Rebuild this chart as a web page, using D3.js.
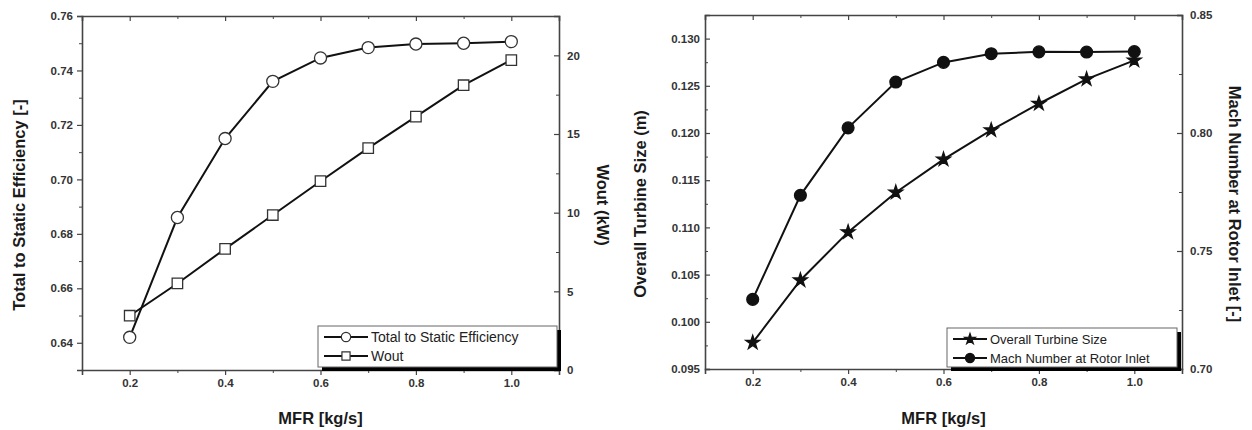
<!DOCTYPE html>
<html>
<head>
<meta charset="utf-8">
<script src="https://cdnjs.cloudflare.com/ajax/libs/d3/7.8.5/d3.min.js"></script>
<style>
  body { margin: 0; background: #fff; }
  svg { display: block; font-family: "Liberation Sans", Arial, sans-serif; }
  .tick text { font-weight: bold; font-size: 11.5px; fill: #333; }
  .domain, .tick line { stroke: #444; }
  .title { font-weight: bold; font-size: 16.5px; fill: #1a1a1a; }
</style>
</head>
<body>
<svg id="chart" width="1252" height="430"></svg>
<script>
// data
var mfr          = [0.2, 0.3, 0.4, 0.5, 0.6, 0.7, 0.8, 0.9, 1.0];
var efficiency   = [0.642, 0.686, 0.715, 0.736, 0.7446, 0.7484, 0.7497, 0.7500, 0.7506];
var wout         = [3.45, 5.5, 7.7, 9.85, 12.0, 14.1, 16.1, 18.1, 19.7];
var turbineSize  = [0.0978, 0.1044, 0.1095, 0.1137, 0.1172, 0.1203, 0.1231, 0.1257, 0.1277];
var machNumber   = [0.7295, 0.7736, 0.8022, 0.8216, 0.8299, 0.8336, 0.8344, 0.8343, 0.8345];

var mfrTicks   = [0.2, 0.4, 0.6, 0.8, 1.0];
var mfrMinor   = [0.1, 0.3, 0.5, 0.7, 0.9, 1.1];
var effTicks   = [0.64, 0.66, 0.68, 0.70, 0.72, 0.74, 0.76];
var effMinor   = [0.63, 0.65, 0.67, 0.69, 0.71, 0.73, 0.75];
var woutTicks  = [0, 5, 10, 15, 20];
var woutMinor  = [2.5, 7.5, 12.5, 17.5];
var sizeTicks  = [0.095, 0.100, 0.105, 0.110, 0.115, 0.120, 0.125, 0.130];
var sizeMinor  = [0.0975, 0.1025, 0.1075, 0.1125, 0.1175, 0.1225, 0.1275];
var machTicks  = [0.70, 0.75, 0.80, 0.85];
var machMinor  = [0.725, 0.775, 0.825];

var svg = d3.select("#chart");

function panel(o) {
  var g = svg.append("g");
  var x = d3.scaleLinear().domain([0.1, 1.1]).range([o.left, o.right]);
  var yL = d3.scaleLinear().domain(o.yLdom).range([o.bottom, o.top]);
  var yR = d3.scaleLinear().domain(o.yRdom).range([o.bottom, o.top]);

  function ax(axis, tr, vals, minor, fmt, size, minorSize, labelX) {
    var a = g.append("g").attr("transform", tr)
      .call(axis.tickValues(vals).tickFormat(fmt).tickSize(size).tickPadding(4))
      .call(function(s){ s.select(".domain").attr("stroke-width", 1.6); s.selectAll(".tick line").attr("stroke-width", 1.2); });
    if (labelX !== undefined) a.selectAll(".tick text").attr("x", labelX);
    g.append("g").attr("transform", tr)
      .call(axis.tickValues(minor).tickFormat("").tickSize(minorSize))
      .call(function(s){ s.select(".domain").remove(); s.selectAll(".tick line").attr("stroke-width", 1); });
  }
  var fx = d3.format(".1f");
  ax(d3.axisBottom(x), "translate(0," + o.bottom + ")", mfrTicks, mfrMinor, fx, 5, 3);
  ax(d3.axisTop(x), "translate(0," + o.top + ")", mfrTicks, mfrMinor, "", -5, -3);
  ax(d3.axisLeft(yL), "translate(" + o.left + ",0)", o.yLticks, o.yLminor, o.yLfmt,
     o.leftIn ? -5 : 5, o.leftIn ? -3 : 3, o.leftIn ? -5 : undefined);
  ax(d3.axisRight(yR), "translate(" + o.right + ",0)", o.yRticks, o.yRminor, o.yRfmt, -5, -3, 8);

  // axis titles
  var midY = (o.top + o.bottom) / 2;
  g.append("text").attr("class", "title").attr("text-anchor", "middle")
    .attr("x", (o.left + o.right) / 2).attr("y", 424).text("MFR [kg/s]");
  g.append("text").attr("class", "title").attr("text-anchor", "middle")
    .attr("transform", "translate(" + o.lTitleX + "," + (midY + 12) + ") rotate(-90)").text(o.lTitle);
  g.append("text").attr("class", "title").attr("text-anchor", "middle")
    .attr("transform", "translate(" + o.rTitleX + "," + (midY + 12) + ") rotate(90)").text(o.rTitle);

  var series = [
    { vals: o.s1.vals, y: yL, sym: o.s1.sym, fill: o.s1.fill, size: o.s1.size, name: o.s1.name },
    { vals: o.s2.vals, y: yR, sym: o.s2.sym, fill: o.s2.fill, size: o.s2.size, name: o.s2.name }
  ];
  series.forEach(function(s) {
    var line = d3.line().x(function(d, i){ return x(mfr[i]); }).y(function(d){ return s.y(d); });
    g.append("path").datum(s.vals).attr("d", line)
      .attr("fill", "none").attr("stroke", "#111").attr("stroke-width", 2);
    g.selectAll(null).data(s.vals).enter().append("path")
      .attr("transform", function(d, i){ return "translate(" + x(mfr[i]) + "," + s.y(d) + ")"; })
      .attr("d", d3.symbol().type(s.sym).size(s.size))
      .attr("fill", s.fill).attr("stroke", s.fill === "#fff" ? "#333" : "#111").attr("stroke-width", 1.3);
  });

  // legend with offset shadow
  var L = o.legend;
  g.append("rect").attr("x", L.x + 4).attr("y", L.y + 4).attr("width", L.w).attr("height", L.h).attr("fill", "#000");
  g.append("rect").attr("x", L.x).attr("y", L.y).attr("width", L.w).attr("height", L.h)
    .attr("fill", "#fff").attr("stroke", "#666").attr("stroke-width", 1);
  series.forEach(function(s, i) {
    var cy = L.y + 11 + i * 19;
    g.append("line").attr("x1", L.x + 6).attr("x2", L.x + L.lineW).attr("y1", cy).attr("y2", cy)
      .attr("stroke", "#111").attr("stroke-width", 2);
    g.append("path").attr("transform", "translate(" + (L.x + 6 + (L.lineW - 6) / 2) + "," + cy + ")")
      .attr("d", d3.symbol().type(s.sym).size(s.size * 0.6))
      .attr("fill", s.fill).attr("stroke", s.fill === "#fff" ? "#333" : "#111").attr("stroke-width", 1.2);
    g.append("text").attr("x", L.x + L.lineW + 3).attr("y", cy + 5)
      .attr("font-size", L.fs).attr("fill", "#222").text(s.name);
  });
}

panel({
  left: 82, right: 559, top: 16, bottom: 370,
  yLdom: [0.63, 0.76], yRdom: [0, 22.5],
  yLticks: effTicks, yLminor: effMinor, yLfmt: d3.format(".2f"),
  yRticks: woutTicks, yRminor: woutMinor, yRfmt: d3.format("d"),
  leftIn: false,
  lTitle: "Total to Static Efficiency [-]", lTitleX: 25,
  rTitle: "Wout (kW)", rTitleX: 597,
  s1: { vals: efficiency, sym: d3.symbolCircle, fill: "#fff", size: 115, name: "Total to Static Efficiency" },
  s2: { vals: wout, sym: d3.symbolSquare, fill: "#fff", size: 110, name: "Wout" },
  legend: { x: 318, y: 326, w: 239, h: 41, lineW: 50, fs: 14 }
});

panel({
  left: 705, right: 1182, top: 15, bottom: 369,
  yLdom: [0.095, 0.1325], yRdom: [0.70, 0.85],
  yLticks: sizeTicks, yLminor: sizeMinor, yLfmt: d3.format(".3f"),
  yRticks: machTicks, yRminor: machMinor, yRfmt: d3.format(".2f"),
  leftIn: true,
  lTitle: "Overall Turbine Size (m)", lTitleX: 646,
  rTitle: "Mach Number at Rotor Inlet [-]", rTitleX: 1229,
  s1: { vals: turbineSize, sym: d3.symbolStar, fill: "#111", size: 60, name: "Overall Turbine Size" },
  s2: { vals: machNumber, sym: d3.symbolCircle, fill: "#111", size: 110, name: "Mach Number at Rotor Inlet" },
  legend: { x: 947, y: 328, w: 230, h: 39, lineW: 40, fs: 13 }
});
</script>
</body>
</html>
